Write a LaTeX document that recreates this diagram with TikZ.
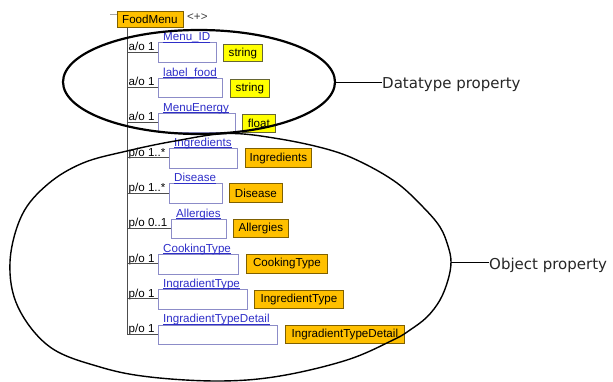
\documentclass[tikz,border=0pt]{standalone}
\usepackage{fontspec}
\setmainfont{Liberation Sans}
\newfontfamily\dvs{DejaVu Sans}
\usetikzlibrary{shapes.geometric}
\definecolor{orangefill}{HTML}{FFC000}
\definecolor{orangeedge}{HTML}{7F6000}
\definecolor{yellowfill}{HTML}{FFFF00}
\definecolor{yellowedge}{HTML}{666633}
\definecolor{namecol}{HTML}{2E2EC8}
\definecolor{boxedge}{HTML}{8C8CC8}
\definecolor{treecol}{HTML}{4D4D4D}
\tikzset{
 ft/.style={font=\fontsize{11.6}{13}\selectfont},
 slotbox/.style={draw=boxedge, line width=0.9pt, fill=white, minimum height=19.5pt, inner sep=0pt, anchor=north west},
 namelbl/.style={ft, text=namecol, inner sep=0pt, anchor=base west},
 nameline/.style={draw=namecol, line width=0.6pt},
 cardlbl/.style={ft, text=black, inner sep=0pt, anchor=base west},
 dtype/.style={draw=yellowedge, fill=yellowfill, line width=0.8pt, ft, minimum height=17.5pt, inner sep=0pt, anchor=north west},
 otype/.style={draw=orangeedge, fill=orangefill, line width=0.8pt, ft, minimum height=18.5pt, inner sep=0pt, anchor=north west},
 treeline/.style={draw=treecol, line width=0.8pt},
 bigring/.style={draw=black, line width=2.2pt},
 objring/.style={draw=black, line width=1.4pt},
 callout/.style={draw=black, line width=0.9pt},
 calltext/.style={font=\dvs\fontsize{15}{18}\selectfont, text=black!85, inner sep=0pt, anchor=west},
}
\begin{document}
\begin{tikzpicture}[x=1pt,y=-1pt]
\useasboundingbox (0,0) rectangle (613,382);
% root
\node[otype, minimum width=66pt, minimum height=16pt] (fm) at (116.5,11) {FoodMenu};
\node[ft, text=black!75, anchor=west, inner sep=0pt] (plus) at (187,17.5) {<+>};
\coordinate (stub) at (110,14.5);
\draw[draw=gray!70, line width=0.8pt] (stub) -- (stub -| fm.west);
% row 1
\node[slotbox, minimum width=58pt] (b1) at (158,42.5) {};
\node[namelbl] (n1) at ([xshift=5pt,yshift=1.6pt]b1.north west) {Menu\_ID};
\draw[nameline] ([yshift=-1.1pt]n1.base west) -- ([yshift=-1.1pt]n1.base east);
\node[cardlbl] (c1) at (128.5,50.5) {a/o 1};
\coordinate (s1) at (127,52);
\draw[treeline] (s1) -- (s1 -| b1.west);
\node[dtype, minimum width=39pt] (t1) at (223,44) {string};
% row 2
\node[slotbox, minimum width=64pt] (b2) at (158,77.75) {};
\node[namelbl] (n2) at ([xshift=5pt,yshift=1.6pt]b2.north west) {label\_food};
\draw[nameline] ([yshift=-1.1pt]n2.base west) -- ([yshift=-1.1pt]n2.base east);
\node[cardlbl] (c2) at (128.5,85.75) {a/o 1};
\coordinate (s2) at (127,87.25);
\draw[treeline] (s2) -- (s2 -| b2.west);
\node[dtype, minimum width=39pt] (t2) at (230,79.25) {string};
% row 3
\node[slotbox, minimum width=77pt] (b3) at (158,113) {};
\node[namelbl] (n3) at ([xshift=5pt,yshift=1.6pt]b3.north west) {MenuEnergy};
\draw[nameline] ([yshift=-1.1pt]n3.base west) -- ([yshift=-1.1pt]n3.base east);
\node[cardlbl] (c3) at (128.5,121) {a/o 1};
\coordinate (s3) at (127,122.5);
\draw[treeline] (s3) -- (s3 -| b3.west);
\node[dtype, minimum width=33pt] (t3) at (242,114.5) {float};
% row 4
\node[slotbox, minimum width=68pt] (b4) at (169,148.25) {};
\node[namelbl] (n4) at ([xshift=5pt,yshift=1.6pt]b4.north west) {Ingredients};
\draw[nameline] ([yshift=-1.1pt]n4.base west) -- ([yshift=-1.1pt]n4.base east);
\node[cardlbl] (c4) at (128.5,156.25) {p/o 1..*};
\coordinate (s4) at (127,157.75);
\draw[treeline] (s4) -- (s4 -| b4.west);
\node[otype, minimum width=66pt] (t4) at (245,148.5) {Ingredients};
% row 5
\node[slotbox, minimum width=53pt] (b5) at (169,183.5) {};
\node[namelbl] (n5) at ([xshift=5pt,yshift=1.6pt]b5.north west) {Disease};
\draw[nameline] ([yshift=-1.1pt]n5.base west) -- ([yshift=-1.1pt]n5.base east);
\node[cardlbl] (c5) at (128.5,191.5) {p/o 1..*};
\coordinate (s5) at (127,193);
\draw[treeline] (s5) -- (s5 -| b5.west);
\node[otype, minimum width=53pt] (t5) at (229,183.5) {Disease};
% row 6
\node[slotbox, minimum width=55pt] (b6) at (171,218.75) {};
\node[namelbl] (n6) at ([xshift=5pt,yshift=1.6pt]b6.north west) {Allergies};
\draw[nameline] ([yshift=-1.1pt]n6.base west) -- ([yshift=-1.1pt]n6.base east);
\node[cardlbl] (c6) at (128.5,226.75) {p/o 0..1};
\coordinate (s6) at (127,228.25);
\draw[treeline] (s6) -- (s6 -| b6.west);
\node[otype, minimum width=55pt] (t6) at (233,218.75) {Allergies};
% row 7
\node[slotbox, minimum width=80pt] (b7) at (158,254) {};
\node[namelbl] (n7) at ([xshift=5pt,yshift=1.6pt]b7.north west) {CookingType};
\draw[nameline] ([yshift=-1.1pt]n7.base west) -- ([yshift=-1.1pt]n7.base east);
\node[cardlbl] (c7) at (128.5,262) {p/o 1};
\coordinate (s7) at (127,263.5);
\draw[treeline] (s7) -- (s7 -| b7.west);
\node[otype, minimum width=81pt] (t7) at (246,254) {CookingType};
% row 8
\node[slotbox, minimum width=89pt] (b8) at (158,289.25) {};
\node[namelbl] (n8) at ([xshift=5pt,yshift=1.6pt]b8.north west) {IngradientType};
\draw[nameline] ([yshift=-1.1pt]n8.base west) -- ([yshift=-1.1pt]n8.base east);
\node[cardlbl] (c8) at (128.5,297.25) {p/o 1};
\coordinate (s8) at (127,298.75);
\draw[treeline] (s8) -- (s8 -| b8.west);
\node[otype, minimum width=89pt] (t8) at (254,289.5) {IngredientType};
% row 9
\node[slotbox, minimum width=119pt] (b9) at (158,324.5) {};
\node[namelbl] (n9) at ([xshift=5pt,yshift=1.6pt]b9.north west) {IngradientTypeDetail};
\draw[nameline] ([yshift=-1.1pt]n9.base west) -- ([yshift=-1.1pt]n9.base east);
\node[cardlbl] (c9) at (128.5,332.5) {p/o 1};
\coordinate (s9) at (127,334);
\draw[treeline] (s9) -- (s9 -| b9.west);
\node[otype, minimum width=119pt] (t9) at (285,324.5) {IngradientTypeDetail};
% spine
\draw[treeline] (fm.south -| s1) -- (s9);
% datatype ring
\node[bigring, ellipse, minimum width=272pt, minimum height=104pt, inner sep=0pt] (dt) at (199,82) {};
\node[calltext] (dtl) at (382,85) {Datatype property};
\draw[callout] (dt.east) -- (dt.east -| dtl.west);
% object ring
\draw[objring] plot[smooth cycle, tension=0.6] coordinates {
 (228,133.5) (280,139) (330,150) (363,163) (397,183) (423,207) (440,227)
 (448,246) (451,262) (448,280) (440,300) (427,317) (410,330) (393,340)
 (347,360) (280,376) (220,381) (150,377) (100,367)
 (50,347) (18,307) (10,262) (22,215) (48,184) (83,163) (127,151) (175,141)};
\coordinate (opR) at (451,262);
\node[calltext] (opl) at (489,265.5) {Object property};
\draw[callout] (opR) -- (opR -| opl.west);
\end{tikzpicture}
\end{document}
